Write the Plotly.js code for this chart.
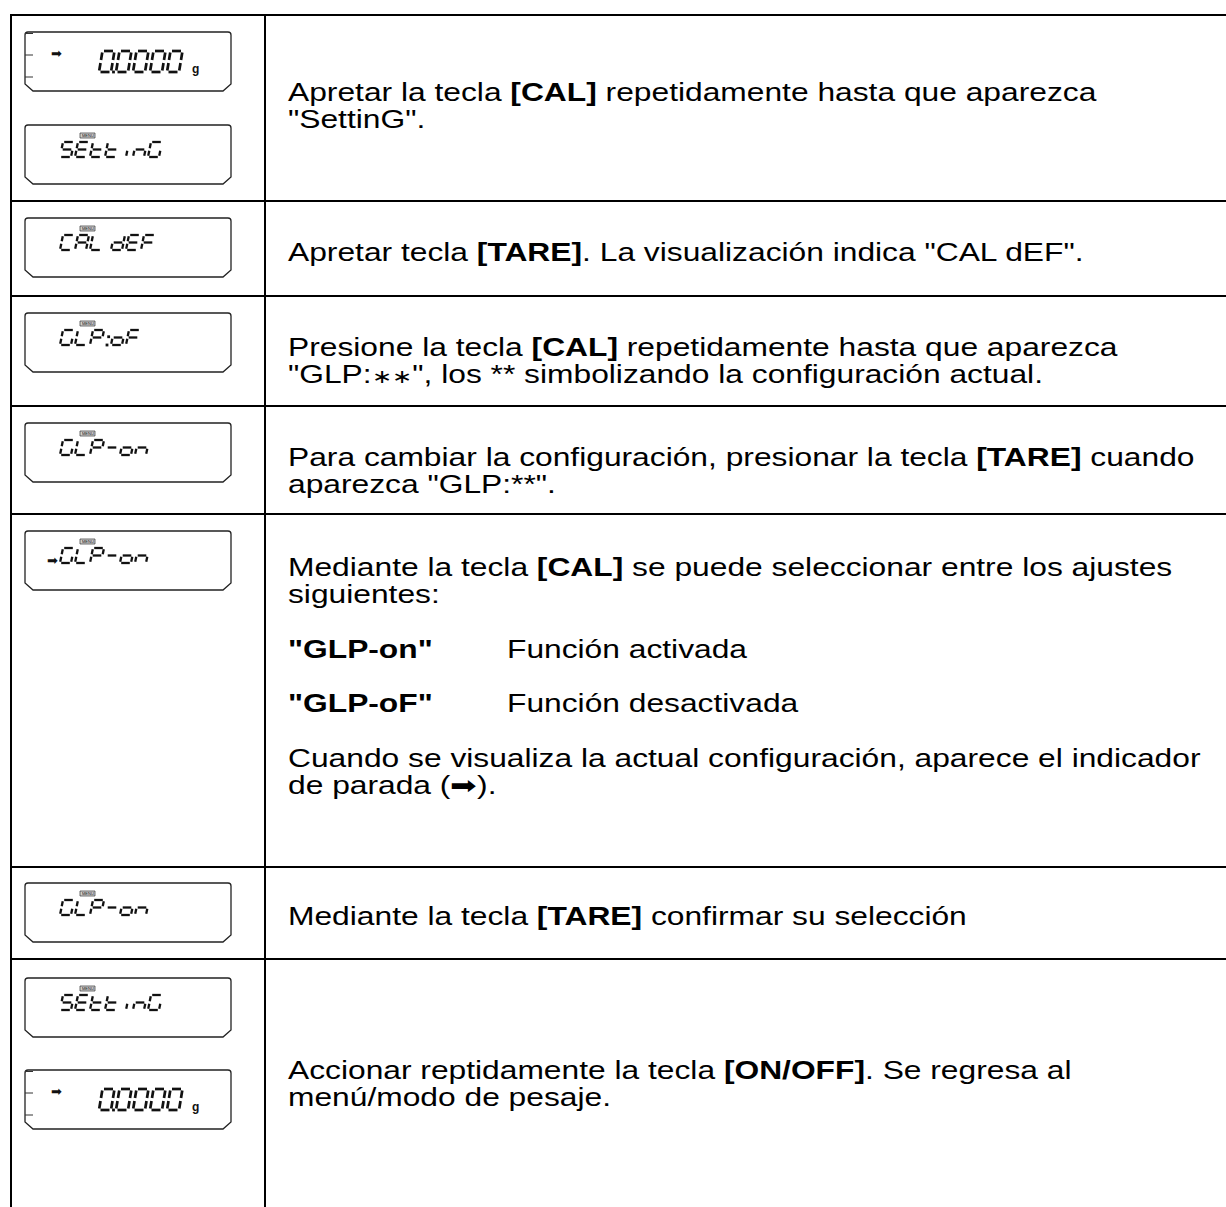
<!DOCTYPE html>
<html><head><meta charset="utf-8">
<script src="https://cdn.plot.ly/plotly-3.0.1.min.js"></script>
<style>html,body{margin:0;padding:0;background:#fff}</style>
</head><body><div id="chart" style="width:1226px;height:1207px"></div>
<script>
// ---------- DATA ----------
// Each row: list of paragraphs; each paragraph: list of lines; a line is a string or a [term, definition] pair
const rowTexts = [
  [["Apretar la tecla <b>[CAL]</b> repetidamente hasta que aparezca", "\"SettinG\"."]],
  [["Apretar tecla <b>[TARE]</b>. La visualización indica \"CAL dEF\"."]],
  [["Presione la tecla <b>[CAL]</b> repetidamente hasta que aparezca", "\"GLP:<span style=\"font-size:19px\">∗∗</span>\", los ** simbolizando la configuración actual."]],
  [["Para cambiar la configuración, presionar la tecla <b>[TARE]</b> cuando", "aparezca \"GLP:**\"."]],
  [["Mediante la tecla <b>[CAL]</b> se puede seleccionar entre los ajustes", "siguientes:"],
   [["<b>\"GLP-on\"</b>", "Función activada"]],
   [["<b>\"GLP-oF\"</b>", "Función desactivada"]],
   ["Cuando se visualiza la actual configuración, aparece el indicador", "de parada (➡)."]],
  [["Mediante la tecla <b>[TARE]</b> confirmar su selección"]],
  [["Accionar reptidamente la tecla <b>[ON/OFF]</b>. Se regresa al", "menú/modo de pesaje."]]
];
const displayTexts  = ["0.0000", "SEtt inG", "CAL dEF", "GLP:oF", "GLP-on", "GLP-on", "GLP-on", "SEtt inG", "0.0000"];
const displayRows   = [0, 0, 1, 2, 3, 4, 5, 6, 6];
const displayMenu   = [false, true, true, true, true, true, true, true, false];
const displayStable = [true, false, false, false, false, true, false, false, true];
const displayUnits  = ["g", "", "", "", "", "", "", "", "g"];
const rowValign     = ["middle", "top", "top", "top", "top", "top", "middle"];

// ---------- LAYOUT GEOMETRY ----------
const W = 1226, H = 1207;
const rowEdges = [15, 201, 296, 406, 514, 867, 959, 1207];
const rowShift = [-3, 0, 0, 0, 2, -2, 0];
const tableLeft = 11, colDiv = 265, textX = 286, defX = 505;
const boxTops = [32, 125, 218, 313, 423, 531, 883, 978, 1070];
const boxL = 25, boxR = 231, boxH = 59;
const FONT = 'Arial, "Liberation Sans", Helvetica, sans-serif';
const FS = 25, LS = 27, PGAP = 27.5, STRETCH = 1.27, TOPPAD = 51;

const SEG = {'0':'abcdef','S':'acdfg','E':'adefg','t':'defg','i':'e','n':'ceg','G':'acdef',
  'C':'adef','A':'abcefg','L':'def','d':'bcdeg','F':'aefg','P':'abefg','o':'cdeg','-':'g'};
const SEGDEF = {a:[[0,0],[1,0]], b:[[1,0],[1,.5]], c:[[1,.5],[1,1]], d:[[0,1],[1,1]],
  e:[[0,.5],[0,1]], f:[[0,0],[0,.5]], g:[[0,.5],[1,.5]]};

const shapes = [], annotations = [], stretchIdx = [];
const segSmall = {x:[], y:[]}, segBig = {x:[], y:[]}, dots = {x:[], y:[]};

// table grid
shapes.push({type:'line', x0:tableLeft, x1:tableLeft, y0:rowEdges[0]-1, y1:H, line:{color:'#000', width:2}});
shapes.push({type:'line', x0:colDiv, x1:colDiv, y0:rowEdges[0], y1:H, line:{color:'#000', width:2}});
for (let i = 0; i < rowEdges.length - 1; i++) {
  shapes.push({type:'line', x0:tableLeft, x1:W, y0:rowEdges[i], y1:rowEdges[i], line:{color:'#000', width:2}});
}

function drawText(str, x0, yT, big) {
  const w = big ? 12 : 11, h = big ? 21 : 15, s = big ? 3.5 : 3, pitch = big ? 17 : 15, gap = big ? 1.5 : 1.2;
  const tgt = big ? segBig : segSmall;
  let x = x0;
  const P = (u, v) => [x + u * w + (1 - v) * s, yT + v * h];
  for (const ch of str) {
    if (ch === ' ') { x += 6; continue; }
    if (ch === '.') { dots.x.push(x - (pitch - w) / 2); dots.y.push(yT + h); continue; }
    if (ch === ':') {
      [0.45, 1].forEach(v => { dots.x.push(x + 2 + (1 - v) * s); dots.y.push(yT + v * h); });
      x += 6; continue;
    }
    for (const sg of (SEG[ch] || '')) {
      const [a, b] = SEGDEF[sg];
      const p1 = P(a[0], a[1]), p2 = P(b[0], b[1]);
      const dx = p2[0] - p1[0], dy = p2[1] - p1[1], L = Math.hypot(dx, dy);
      const ux = dx / L * gap, uy = dy / L * gap;
      tgt.x.push(p1[0] + ux, p2[0] - ux, null);
      tgt.y.push(p1[1] + uy, p2[1] - uy, null);
    }
    x += (ch === 'i') ? 7 : pitch;
  }
}

function boxPath(T) {
  const B = T + boxH, r = 3, ch = 7, cw = 8;
  return `M${boxL + r},${T} L${boxR - r},${T} Q${boxR},${T} ${boxR},${T + r} L${boxR},${B - ch} L${boxR - cw},${B} ` +
         `L${boxL + cw},${B} L${boxL},${B - ch} L${boxL},${T + r} Q${boxL},${T} ${boxL + r},${T} Z`;
}

displayTexts.forEach((txt, i) => {
  const T = boxTops[i];
  shapes.push({type:'path', path:boxPath(T), line:{color:'#222', width:1.3}, fillcolor:'rgba(0,0,0,0)'});
  const big = displayUnits[i] !== "";
  if (big) {
    [1.5, 23, 45].forEach(dy => shapes.push({type:'line', x0:boxL, x1:boxL + 8, y0:T + dy, y1:T + dy, line:{color:'#333', width:1}}));
    drawText(txt, 99, T + 19, true);
    annotations.push({x:195, y:T + 37, xref:'x', yref:'y', text:'<b>' + displayUnits[i] + '</b>', showarrow:false,
      xanchor:'center', yanchor:'middle', font:{family:FONT, size:12, color:'#111'}});
  } else {
    drawText(txt, 60, T + 17, false);
  }
  if (displayMenu[i]) {
    shapes.push({type:'rect', x0:80, x1:95, y0:T + 8, y1:T + 13, line:{color:'#333', width:0.7}, fillcolor:'#cfcfcf'});
    annotations.push({x:87.5, y:T + 10.5, xref:'x', yref:'y', text:'MENU', showarrow:false,
      font:{family:FONT, size:4, color:'#111'}, xanchor:'center', yanchor:'middle'});
  }
  if (displayStable[i]) {
    annotations.push({x: big ? 56 : 52, y: big ? T + 21 : T + 29, xref:'x', yref:'y', text:'➡', showarrow:false,
      font:{family:'DejaVu Sans', size:13, color:'#111'}, xanchor:'center', yanchor:'middle'});
  }
});

// text column
rowTexts.forEach((paras, r) => {
  const items = [];
  let y = 0;
  paras.forEach((lines, pi) => {
    if (pi > 0) y += PGAP;
    lines.forEach((ln, li) => {
      if (li > 0 || pi > 0) y += LS;
      items.push({ln, y});
    });
  });
  const top = rowEdges[r], bot = rowEdges[r + 1];
  const base = (rowValign[r] === 'top' ? top + TOPPAD : (top + bot) / 2 - y / 2) + rowShift[r];
  items.forEach(it => {
    const yy = base + it.y;
    const pieces = Array.isArray(it.ln) ? [[it.ln[0], textX], [it.ln[1], defX]] : [[it.ln, textX]];
    pieces.forEach(([t, x]) => {
      stretchIdx.push(annotations.length);
      annotations.push({x, y:yy, xref:'x', yref:'y', text:t, showarrow:false, align:'left',
        xanchor:'left', yanchor:'middle', font:{family:FONT, size:FS, color:'#000'}});
    });
  });
});

const traces = [
  {type:'scatter', mode:'lines', x:segSmall.x, y:segSmall.y, line:{color:'#111', width:2.3}, hoverinfo:'skip', connectgaps:false},
  {type:'scatter', mode:'lines', x:segBig.x, y:segBig.y, line:{color:'#111', width:2.7}, hoverinfo:'skip', connectgaps:false},
  {type:'scatter', mode:'markers', x:dots.x, y:dots.y, marker:{symbol:'square', size:2.8, color:'#111'}, hoverinfo:'skip'}
];

Plotly.newPlot('chart', traces, {
  width:W, height:H, margin:{l:0, r:0, t:0, b:0}, showlegend:false,
  paper_bgcolor:'#fff', plot_bgcolor:'#fff',
  xaxis:{range:[0, W], visible:false, fixedrange:true},
  yaxis:{range:[H, 0], visible:false, fixedrange:true},
  shapes, annotations
}, {staticPlot:true}).then(gd => {
  // the source page is wider than tall: stretch the body text horizontally
  const set = new Set(stretchIdx);
  gd.querySelectorAll('g.annotation').forEach(g => {
    const idx = +g.getAttribute('data-index');
    if (!set.has(idx)) return;
    const t = g.querySelector('text.annotation-text');
    if (!t) return;
    const len = t.getComputedTextLength();
    t.setAttribute('text-anchor', 'start');
    t.setAttribute('textLength', (len * STRETCH).toFixed(1));
    t.setAttribute('lengthAdjust', 'spacingAndGlyphs');
  });
});
</script></body></html>
